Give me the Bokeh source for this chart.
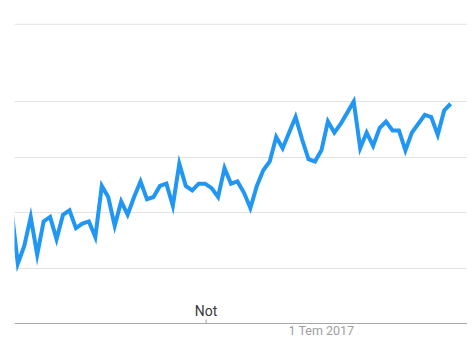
from bokeh.plotting import figure
from bokeh.models import FixedTicker, Range1d, Label, Grid, Span
from bokeh.embed import file_html
from bokeh.resources import INLINE

# Weekly search interest (0-100)
interest = [52, 27, 35, 48, 31, 46, 48, 38, 49, 51, 43, 45, 46, 39, 62, 57, 44, 55,
            49, 57, 64, 56, 57, 62, 63, 53, 72, 62, 60, 63, 63, 61, 57, 70, 63, 64,
            59, 52, 62, 69, 73, 84, 79, 86, 93, 83, 74, 73, 78, 91, 86, 90, 95, 100,
            79, 86, 80, 88, 91, 87, 87, 78, 86, 90, 94, 93, 85, 96, 99]
week_index = list(range(len(interest)))

grid_levels = [25, 50, 75, 100]
header_level = 134.8
date_tick_positions = [48]
date_tick_labels = ["1 Tem 2017"]
note_position = 30.15
note_text = "Not"

x_start, x_plot_end, x_end = 0.49, 68.6, 70.61

p = figure(width=467, height=339, output_backend="svg", toolbar_location=None,
           x_axis_location=None, y_axis_location=None,
           x_range=Range1d(x_start, x_end), y_range=Range1d(-7.2, 135.6),
           min_border_left=14, min_border_right=0, min_border_top=22,
           min_border_bottom=0)
p.outline_line_color = None
p.background_fill_color = "white"
p.border_fill_color = "white"

p.xgrid.visible = False
p.ygrid.visible = False

# horizontal gridlines of the plot area
p.add_layout(Grid(dimension=1, ticker=FixedTicker(ticks=grid_levels),
                  bounds=(x_start, x_plot_end), grid_line_color="#e3e3e3",
                  grid_line_width=1))
# baseline (x axis line)
p.add_layout(Grid(dimension=1, ticker=FixedTicker(ticks=[0]),
                  bounds=(x_start, x_plot_end), grid_line_color="#a8a8a8",
                  grid_line_width=1))
# header separator line across the top
p.add_layout(Span(location=header_level, dimension="width",
                  line_color="#e3e3e3", line_width=1))

p.line(week_index, interest, line_width=4, line_color="#2196f3", line_join="miter")

# "Not" annotation marker with its small tick on the axis
p.segment(x0=[note_position], y0=[0], x1=[note_position], y1=[1.8],
          line_color="#9e9e9e", line_width=1)
p.add_layout(Label(x=note_position, y=0, y_offset=13, text=note_text,
                   text_font="Roboto", text_font_size="14px", text_color="#3a3a3a",
                   text_align="center", text_baseline="alphabetic"))

# date tick label below the axis line
for pos, lab in zip(date_tick_positions, date_tick_labels):
    p.add_layout(Label(x=pos, y=0, y_offset=-7, text=lab,
                       text_font="Roboto", text_font_size="12.5px",
                       text_color="#9e9e9e", text_align="center",
                       text_baseline="alphabetic"))

open("out.html", "w").write(file_html(p, INLINE))
